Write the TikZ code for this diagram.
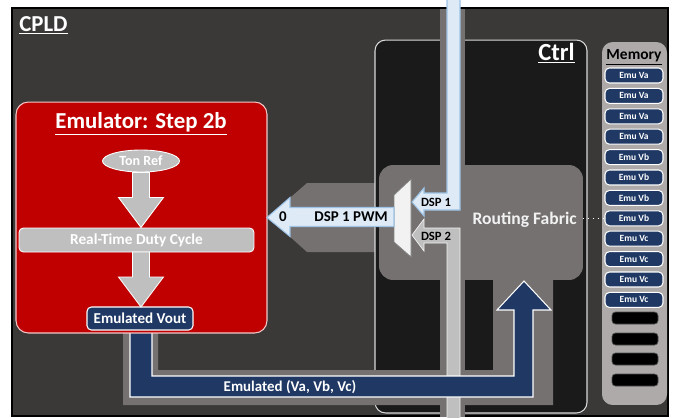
\documentclass[tikz,border=0pt]{standalone}
\usepackage{fontspec}
\setmainfont{Carlito}
\usepackage{tikz}
\usetikzlibrary{shapes.geometric,calc}
\definecolor{CpldGray}   {HTML}{3B3838}
\definecolor{CtrlBlack}  {HTML}{1A1A1A}
\definecolor{FabricGray} {HTML}{767171}
\definecolor{EmuRed}     {HTML}{C00000}
\definecolor{PinkEdge}   {HTML}{F4C7C7}
\definecolor{BarGray}    {HTML}{BFBFBF}
\definecolor{NavyBlue}   {HTML}{1F3864}
\definecolor{PaleBlue}   {HTML}{DEEBF7}
\definecolor{PaleEdge}   {HTML}{9DC3E6}
\definecolor{MemGray}    {HTML}{AEAAAA}
\definecolor{MuxWhite}   {HTML}{F2F2F2}
\tikzset{
  blk/.style={rectangle,inner sep=0pt,outer sep=0pt},
  ttl/.style={inner sep=0pt,text=white,font=\fontsize{13}{15}\selectfont\bfseries},
  lbl/.style={inner sep=0pt,font=\fontsize{#1}{10}\selectfont\bfseries},
  gbar/.style={blk,rounded corners=2.5pt,draw=white,line width=0.5pt,fill=BarGray,
               text=white,font=\fontsize{8.7}{10}\selectfont\bfseries},
  nbox/.style={blk,rounded corners=2.5pt,draw=white,line width=0.6pt,fill=NavyBlue,
               text=white,font=\fontsize{#1}{10}\selectfont\bfseries},
  nbox/.default=8.6,
  slot/.style={blk,rounded corners=2pt,fill=black,draw=black!70,
               minimum width=0.92cm,minimum height=0.24cm},
  fatgray/.style={draw=white,line width=0.5pt,fill=BarGray},
  fatblue/.style={draw=PaleEdge,line width=0.6pt,fill=PaleBlue},
}

\begin{document}
\begin{tikzpicture}[x=0.02cm,y=-0.02cm]
  \useasboundingbox (0,0) rectangle (676,417);

  \node[blk,draw=black,line width=1.2pt,fill=CpldGray,
        minimum width=13.12cm,minimum height=8.16cm] (cpld) at (340,212) {};
  \node[ttl,anchor=base west] (cpldtxt) at (19,31) {\underline{CPLD}};

  \fill[FabricGray] (268,217) -- (307,183) -- (377,183) -- (377,252) -- (307,252) -- cycle;

  \node[blk,rounded corners=6pt,draw=white!85!black,line width=0.6pt,fill=CtrlBlack,
        minimum width=4.24cm,minimum height=7.46cm] (ctrl) at (481,226.5) {};
  \node[ttl,font=\fontsize{14}{16}\selectfont\bfseries,anchor=base east]
    (ctrltxt) at (575,60) {\underline{Ctrl}};

  \fill[FabricGray] (440,9) rectangle (465,417);
  \fill[FabricGray] (123,333) -- (123,405) -- (553,405) -- (553,278) -- (493,278)
    -- (493,370) -- (158,370) -- (158,333) -- cycle;

  \node[blk,rounded corners=8pt,fill=FabricGray,
        minimum width=4.08cm,minimum height=2.3cm] (fabric) at (481,222.5) {};
  \node[lbl=10,text=MuxWhite,anchor=east] (fabtxt) at (577,220) {Routing Fabric};

  \draw[fatblue] (447,-2) -- (460,-2) -- (460,210) -- (424,210) -- (424,216) -- (412,202)
    -- (424,188) -- (424,193) -- (447,193) -- cycle;
  \node[lbl=7.2] (dsp1) at (436,202) {DSP 1};
  \draw[draw=white!80!BarGray,line width=0.4pt,fill=BarGray] (447,419) -- (447,243) -- (424,243)
    -- (424,251) -- (412,235) -- (424,219) -- (424,228) -- (460,228) -- (460,419) -- cycle;
  \node[lbl=7.2] (dsp2) at (436,236) {DSP 2};

  \draw[draw=gray,line width=0.4pt,fill=MuxWhite] (394,195) -- (411,179) -- (411,257) -- (394,242) -- cycle;

  \draw[white,line width=0.6pt,fill=NavyBlue] (130,330) -- (130,397) -- (533,397) -- (533,310)
    -- (551,310) -- (524,281) -- (497,310) -- (514,310) -- (514,376) -- (152,376) -- (152,330) -- cycle;
  \node[lbl=8.5,text=white] (emuvabc) at (290,387) {Emulated (Va, Vb, Vc)};

  \node[blk,rounded corners=7pt,draw=PinkEdge,line width=0.6pt,fill=EmuRed,
        minimum width=5.02cm,minimum height=4.62cm] (emu) at (141.5,217.5) {};
  \node[ttl,anchor=base] (emutxt) at (141,128) {\underline{Emulator: Step 2b}};

  \draw[fatblue] (emu.east) -- ++(23,-20) -- ++(0,10) -- ++(104,0) -- ++(0,19)
    -- ++(-104,0) -- ++(0,10) -- cycle;
  \node[lbl=8.5] (zero) at (283,216.5) {0};
  \node[lbl=8.5] (pwm) at (351,216.5) {DSP 1 PWM};

  \node[ellipse,draw=white,line width=0.5pt,fill=BarGray,inner sep=0pt,
        minimum width=1.54cm,minimum height=0.44cm,text=white,
        font=\fontsize{8}{9}\selectfont\bfseries] (tonref) at (141,161) {Ton Ref};
  \node[gbar,minimum width=4.7cm,minimum height=0.48cm] (rtdc) at (136.5,240) {Real-Time Duty Cycle};
  \node[nbox,minimum width=2.12cm,minimum height=0.46cm] (vout) at (140,318.5) {Emulated Vout};

  \draw[fatgray] (tonref.south) ++(-8.5,0) -- ++(0,25) -- ++(-14,0) -- ++(22.5,30)
    -- ++(22.5,-30) -- ++(-14,0) -- ++(0,-25) -- cycle;
  \draw[fatgray] (tonref.south |- rtdc.south) ++(-8.5,0) -- ++(0,25) -- ++(-14,0) -- ++(22.5,30)
    -- ++(22.5,-30) -- ++(-14,0) -- ++(0,-25) -- cycle;

  \node[blk,rounded corners=6pt,fill=MemGray,
        minimum width=1.3cm,minimum height=7.26cm] (mem) at (634.5,223.5) {};
  \node[lbl=8.8,anchor=base] (memtxt) at (634,59) {\underline{Memory}};
  \foreach \v [count=\i from 0] in {Va,Va,Va,Va,Vb,Vb,Vb,Vb,Vc,Vc,Vc,Vc}
    \node[nbox=5.4,minimum width=1.16cm,minimum height=0.3cm] (m\i) at (634,{75.5+20.4*\i}) {Emu \v};
  \foreach \y in {318,339,359,380}
    \node[slot] (slot\y) at (635,\y) {};

  \draw[white,dotted,line width=0.8pt] (fabric.east |- m7.west) -- (m7.west);

\end{tikzpicture}
\end{document}
